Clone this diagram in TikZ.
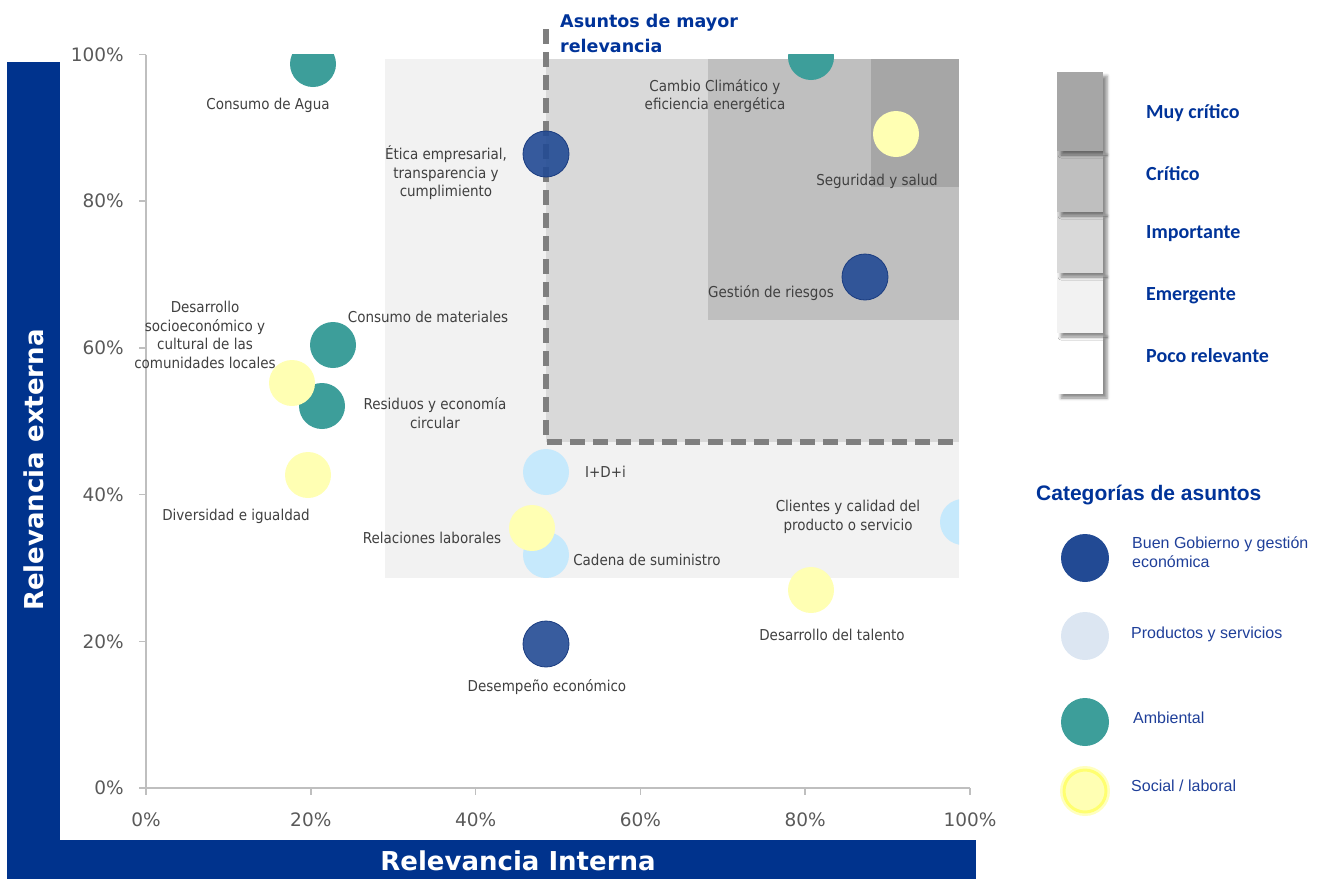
\documentclass[tikz,border=0pt]{standalone}
\usepackage{fontspec}
\setmainfont{DejaVu Sans}
\newfontfamily\condf{DejaVu Sans Condensed}
\newfontfamily\carlito{Carlito}
\newfontfamily\arialf{Liberation Sans}
\usetikzlibrary{shadows.blur}
\definecolor{navy}{HTML}{00338D}
\definecolor{titleblue}{HTML}{003399}
\definecolor{legblue}{HTML}{1F3F99}
\definecolor{labelgray}{HTML}{404040}
\definecolor{tickgray}{HTML}{595959}
\definecolor{axisgray}{HTML}{BFBFBF}
\definecolor{dashgray}{HTML}{7F7F7F}
\definecolor{shadeA}{HTML}{A6A6A6}
\definecolor{shadeB}{HTML}{BFBFBF}
\definecolor{shadeC}{HTML}{D9D9D9}
\definecolor{shadeD}{HTML}{F2F2F2}
\definecolor{cdark}{HTML}{224A94}
\definecolor{cdarkline}{HTML}{1A3C80}
\definecolor{clight}{HTML}{C6E9FC}
\definecolor{clightleg}{HTML}{DCE6F2}
\definecolor{cteal}{HTML}{3D9E9A}
\definecolor{cyellow}{HTML}{FFFFB3}
\definecolor{cyellowring}{HTML}{FFFF70}
\begin{document}
\begin{tikzpicture}[x=1pt,y=-1pt,
  bubble/.style={circle, minimum size=46pt, inner sep=0pt},
  darkb/.style={bubble, fill=cdark, draw=cdarkline, line width=0.8pt, fill opacity=0.9},
  lightb/.style={bubble, fill=clight},
  tealb/.style={bubble, fill=cteal},
  yellowb/.style={bubble, fill=cyellow},
  lbl/.style={font=\condf\fontsize{15}{18.5}\selectfont, text=labelgray, align=center, inner sep=0pt},
  ticklbl/.style={font=\fontsize{18.5}{20}\selectfont, text=tickgray, inner sep=0pt},
  axistitle/.style={font=\fontsize{26}{28}\selectfont\bfseries, text=white, inner sep=0pt},
  levellbl/.style={font=\carlito\fontsize{20}{22}\selectfont\bfseries, text=titleblue, anchor=west, inner sep=0pt},
  catlbl/.style={font=\arialf\fontsize{16}{19}\selectfont, text=legblue, anchor=west, align=left, inner sep=0pt},
  dashline/.style={draw=dashgray, line width=5.5pt, dash pattern=on 15pt off 8pt},
  levelbox/.style={blur shadow={shadow xshift=4pt, shadow yshift=-4pt, shadow blur radius=3pt, shadow opacity=45}}
]
\useasboundingbox (0,0) rectangle (1323,879);

% blue frame bars
\fill[navy] (7,62) rectangle (60,879);
\fill[navy] (7,840) rectangle (976,879);
\node[axistitle, rotate=90] (ytitle) at (34,470) {Relevancia externa};
\node[axistitle] (xtitle) at (518,861) {Relevancia Interna};

% shaded relevance regions
\fill[shadeD] (385,59) rectangle (959,578);
\fill[shadeC] (546,59) rectangle (959,442);
\fill[shadeB] (708,59) rectangle (959,320);
\fill[shadeA] (871,59) rectangle (959,187);

% dashed threshold
\coordinate (dtop) at (546,29);
\coordinate (dcorner) at (546,442);
\coordinate (dright) at (959,442);
\draw[dashline] (dtop) -- (dcorner) -- (dright);

\node[font=\fontsize{17.5}{25}\selectfont\bfseries, text=titleblue, align=left, anchor=west, inner sep=0pt] (mayor) at (560,33) {Asuntos de mayor\\relevancia};

% axes
\draw[axisgray, line width=1.5pt] (146,54.5) -- (146,788) -- (970,788);
\foreach \i/\t in {0/0\%,1/20\%,2/40\%,3/60\%,4/80\%,5/100\%}{
  \draw[axisgray, line width=1.5pt] (139,788-146.7*\i) -- (146,788-146.7*\i);
  \node[ticklbl, anchor=east] at (124,788-146.7*\i) {\t};
  \draw[axisgray, line width=1.5pt] (146+164.8*\i,788) -- (146+164.8*\i,795);
  \node[ticklbl] at (146+164.8*\i,820) {\t};
}

% bubbles
\begin{scope}
\clip (146,54.5) rectangle (959,788);
\node[tealb] (agua) at (313,64) {};
\node[tealb] (cambio) at (811,57) {};
\node[yellowb] (seguridad) at (896,134) {};
\node[darkb] (etica) at (546,154) {};
\node[darkb] (riesgos) at (865,277) {};
\node[tealb] (materiales) at (333,345) {};
\node[tealb] (residuos) at (322,406) {};
\node[yellowb] (comunidades) at (292,383) {};
\node[yellowb] (diversidad) at (308,475) {};
\node[lightb] (idi) at (546,472) {};
\node[lightb] (cadena) at (546,555) {};
\node[yellowb] (relaciones) at (532,528) {};
\node[lightb] (clientes) at (963,522) {};
\node[yellowb] (talento) at (811,590) {};
\node[darkb] (desempeno) at (546,644) {};
\end{scope}

% labels
\node[lbl] (laguas) at (268,105) {Consumo de Agua};
\node[lbl] (lcambio) at (715,96) {Cambio Climático y\\eficiencia energética};
\node[lbl] (letica) at (446,173) {Ética empresarial,\\transparencia y\\cumplimiento};
\node[lbl] (lseg) at (877,181) {Seguridad y salud};
\node[lbl] (lriesgos) at (771,293) {Gestión de riesgos};
\node[lbl] (lcomun) at (205,335) {Desarrollo\\socioeconómico y\\cultural de las\\comunidades locales};
\node[lbl] (lmat) at (428,317) {Consumo de materiales};
\node[lbl] (lres) at (435,413) {Residuos y economía\\circular};
\node[lbl] (ldiv) at (236,516) {Diversidad e igualdad};
\node[lbl, anchor=west] (lidi) at (585,472) {I+D+i};
\node[lbl] (lrel) at (432,538) {Relaciones laborales};
\node[lbl] (lcad) at (647,560) {Cadena de suministro};
\node[lbl] (lcli) at (848,517) {Clientes y calidad del\\producto o servicio};
\node[lbl] (ltal) at (832,635) {Desarrollo del talento};
\node[lbl] (ldes) at (547,687) {Desempeño económico};

% legend: relevance levels (drawn bottom-up so shadows overlap)
\fill[white, levelbox] (1057,333) rectangle (1103,394);
\fill[shadeD, levelbox] (1057,273) rectangle (1103,333);
\fill[shadeC, levelbox] (1057,212) rectangle (1103,273);
\fill[shadeB, levelbox] (1057,151) rectangle (1103,212);
\fill[shadeA, levelbox] (1057,72) rectangle (1103,151);
\node[levellbl] (muy) at (1146,113) {Muy crítico};
\node[levellbl] (crit) at (1146,174) {Crítico};
\node[levellbl] (imp) at (1146,234) {Importante};
\node[levellbl] (emer) at (1146,296) {Emergente};
\node[levellbl] (poco) at (1146,356) {Poco relevante};

% legend: categories
\node[font=\arialf\fontsize{21}{24}\selectfont\bfseries, text=titleblue, anchor=west, inner sep=0pt] (cattitle) at (1036,495) {Categorías de asuntos};
\node[bubble, minimum size=48pt, fill=cdark] (kbuen) at (1085,558) {};
\node[bubble, minimum size=48pt, fill=clightleg] (kprod) at (1085,636) {};
\node[bubble, minimum size=48pt, fill=cteal] (kamb) at (1085,722) {};
\node[bubble, minimum size=50pt, fill=cyellowring, fill opacity=0.45] (ksocglow) at (1085,791) {};
\node[bubble, minimum size=42pt, fill=cyellow, draw=cyellowring, line width=3pt] (ksoc) at (1085,791) {};
\node[catlbl] (tbuen) at (1132,552.5) {Buen Gobierno y gestión\\económica};
\node[catlbl] (tprod) at (1131,634) {Productos y servicios};
\node[catlbl] (tamb) at (1133,718) {Ambiental};
\node[catlbl] (tsoc) at (1131,786) {Social / laboral};
\end{tikzpicture}
\end{document}
